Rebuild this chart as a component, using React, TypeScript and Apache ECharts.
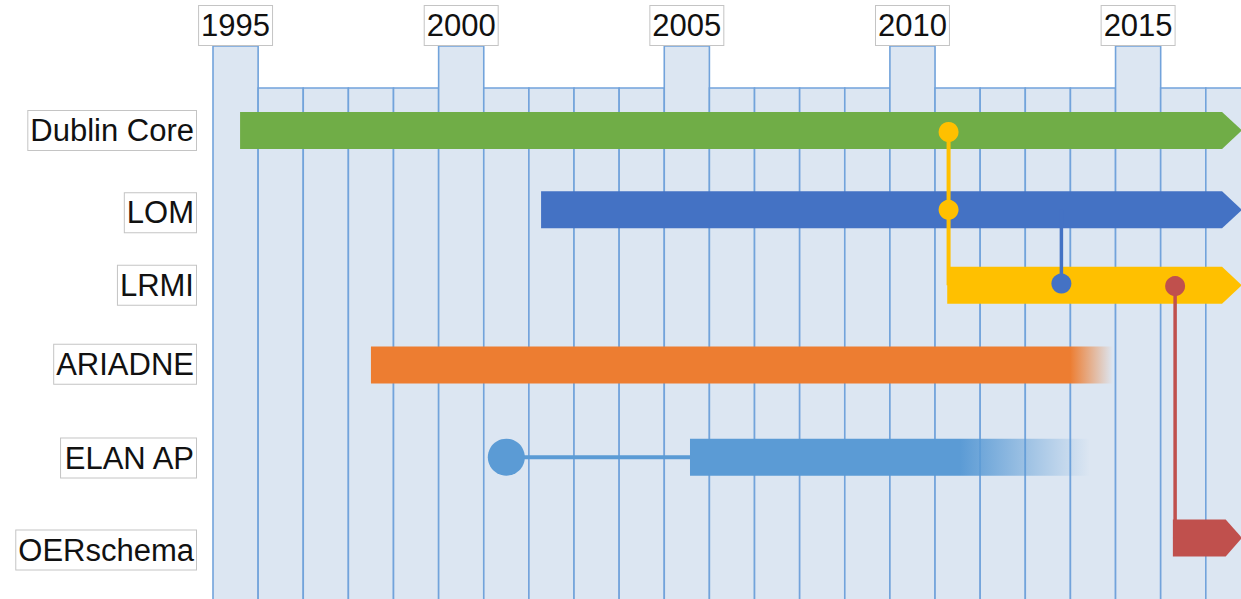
import React, { useEffect, useRef } from 'react';
import * as echarts from 'echarts';

// ---- data ----
const years = [1995, 1996, 1997, 1998, 1999, 2000, 2001, 2002, 2003, 2004, 2005, 2006, 2007, 2008, 2009, 2010, 2011, 2012, 2013, 2014, 2015, 2016, 2017];
const labeledYears = [1995, 2000, 2005, 2010, 2015];

const standards = ['Dublin Core', 'LOM', 'LRMI', 'ARIADNE', 'ELAN AP', 'OERschema'];
const barRows = [1, 1.975, 2.9, 3.88, 5.01, 6.0];
const labelRows = [1, 2.01, 2.9, 3.87, 5.02, 6.15];
const barStart = [1995.1, 2001.77, 2010.77, 1998.0, 2005.07, 2015.77];
const barSolidEnd = [2016.86, 2016.86, 2016.86, 2013.49, 2011.05, 2016.94];
const barEnd = [2017.3, 2017.3, 2017.3, 2014.44, 2013.93, 2017.3];
const barArrow = [true, true, true, false, false, true];
const barColors = ['#70AD47', '#4472C4', '#FFC000', '#ED7D31', '#5B9BD5', '#C0504D'];

// links between standards (vertical connectors)
const linkYears = [2010.8, 2013.3, 2015.82, 2001];
const linkFromRows = [1.02, 1.975, 2.91, 5.01];
const linkToRows = [2.9, 2.88, 6.0, 5.01];
const linkToYears = [2010.8, 2013.3, 2015.82, 2005.07];
const linkColors = ['#FFC000', '#4472C4', '#C0504D', '#5B9BD5'];

// dots
const dotYears = [2010.8, 2010.8, 2013.3, 2015.82, 2001];
const dotRows = [1.02, 1.975, 2.88, 2.91, 5.01];
const dotColors = ['#FFC000', '#FFC000', '#4472C4', '#C0504D', '#5B9BD5'];
const dotBig = [false, false, false, false, true];

const FONT = '31px "Liberation Sans", Arial, sans-serif';
const TALL_TOP = -0.035;
const SHORT_TOP = 0.48;
const BOTTOM = 6.8;
const BAR_H = 37;

function hexToRgba(hex: string, a: number) {
  const n = parseInt(hex.slice(1), 16);
  return `rgba(${(n >> 16) & 255},${(n >> 8) & 255},${n & 255},${a})`;
}

export default function App() {
  const ref = useRef<HTMLDivElement>(null);
  useEffect(() => {
    if (!ref.current) return;
    const chart = echarts.init(ref.current, null, { renderer: 'svg' });

    const option: any = {
      animation: false,
      grid: { left: 213, right: 0, top: 0, bottom: 0 },
      xAxis: { type: 'value', min: 1994.5, max: 2017.28, show: false },
      yAxis: { type: 'value', min: -0.6, max: 6.75, inverse: true, show: false },
      series: [
        {
          type: 'custom',
          name: 'columns',
          silent: true,
          data: years.map((y) => [y, labeledYears.includes(y) ? 1 : 0]),
          renderItem: (params: any, api: any) => {
            const y = api.value(0);
            const tall = api.value(1) === 1;
            const p0 = api.coord([y - 0.5, tall ? TALL_TOP : SHORT_TOP]);
            const p1 = api.coord([y + 0.5, BOTTOM]);
            return {
              type: 'rect',
              shape: { x: p0[0], y: p0[1], width: p1[0] - p0[0], height: p1[1] - p0[1] },
              style: { fill: '#DCE6F2', stroke: '#72A3DB', lineWidth: 1.6 },
            };
          },
        },
        {
          type: 'custom',
          name: 'yearLabels',
          silent: true,
          data: labeledYears.map((y) => [y, TALL_TOP]),
          renderItem: (params: any, api: any) => {
            const p = api.coord([api.value(0), api.value(1)]);
            return {
              type: 'text',
              x: p[0],
              y: p[1] - 1,
              style: {
                text: String(api.value(0)),
                font: FONT,
                fill: '#111',
                align: 'center',
                verticalAlign: 'bottom',
                backgroundColor: '#fff',
                borderColor: '#C4C4C4',
                borderWidth: 1,
                padding: [2, 2, 2, 2],
                lineHeight: 35,
              },
            };
          },
        },
        {
          type: 'custom',
          name: 'bars',
          silent: true,
          data: standards.map((s, i) => [barStart[i], barSolidEnd[i], barEnd[i], barRows[i], i]),
          renderItem: (params: any, api: any) => {
            const i = api.value(4);
            const row = api.value(3);
            const a = api.coord([api.value(0), row]);
            const b = api.coord([api.value(1), row]);
            const c = api.coord([api.value(2), row]);
            const top = a[1] - BAR_H / 2;
            const bot = a[1] + BAR_H / 2;
            const color = barColors[i];
            if (barArrow[i]) {
              return {
                type: 'polygon',
                shape: { points: [[a[0], top], [b[0], top], [c[0], a[1]], [b[0], bot], [a[0], bot]] },
                style: { fill: color },
              };
            }
            const f = (b[0] - a[0]) / (c[0] - a[0]);
            return {
              type: 'rect',
              shape: { x: a[0], y: top, width: c[0] - a[0], height: BAR_H },
              style: {
                fill: new echarts.graphic.LinearGradient(0, 0, 1, 0, [
                  { offset: 0, color },
                  { offset: f, color },
                  { offset: 1, color: hexToRgba(color, 0) },
                ]),
              },
            };
          },
        },
        {
          type: 'custom',
          name: 'links',
          silent: true,
          data: linkYears.map((y, i) => [y, linkFromRows[i], linkToYears[i], linkToRows[i], i]),
          renderItem: (params: any, api: any) => {
            const i = api.value(4);
            const p0 = api.coord([api.value(0), api.value(1)]);
            const p1 = api.coord([api.value(2), api.value(3)]);
            return {
              type: 'line',
              shape: { x1: p0[0], y1: p0[1], x2: p1[0], y2: p1[1] },
              style: { stroke: linkColors[i], lineWidth: i === 0 || i === 3 ? 4 : 3.5 },
            };
          },
        },
        {
          type: 'custom',
          name: 'dots',
          silent: true,
          data: dotYears.map((y, i) => [y, dotRows[i], i]),
          renderItem: (params: any, api: any) => {
            const i = api.value(2);
            const p = api.coord([api.value(0), api.value(1)]);
            return {
              type: 'circle',
              shape: { cx: p[0], cy: p[1], r: dotBig[i] ? 18.5 : 10 },
              style: { fill: dotColors[i] },
            };
          },
        },
        {
          type: 'custom',
          name: 'rowLabels',
          silent: true,
          data: standards.map((s, i) => [1994.5, labelRows[i], i]),
          renderItem: (params: any, api: any) => {
            const i = api.value(2);
            const p = api.coord([api.value(0), api.value(1)]);
            return {
              type: 'text',
              x: p[0] - 17,
              y: p[1],
              style: {
                text: standards[i],
                font: FONT,
                fill: '#111',
                align: 'right',
                verticalAlign: 'middle',
                backgroundColor: '#fff',
                borderColor: '#C4C4C4',
                borderWidth: 1,
                padding: [2, 2, 2, 2],
                lineHeight: 35,
              },
            };
          },
        },
      ],
    };
    chart.setOption(option);
    return () => chart.dispose();
  }, []);

  return (
    <div
      ref={ref}
      style={{ position: 'absolute', left: 0, top: 0, width: 1241, height: 599, background: '#fff' }}
    />
  );
}
